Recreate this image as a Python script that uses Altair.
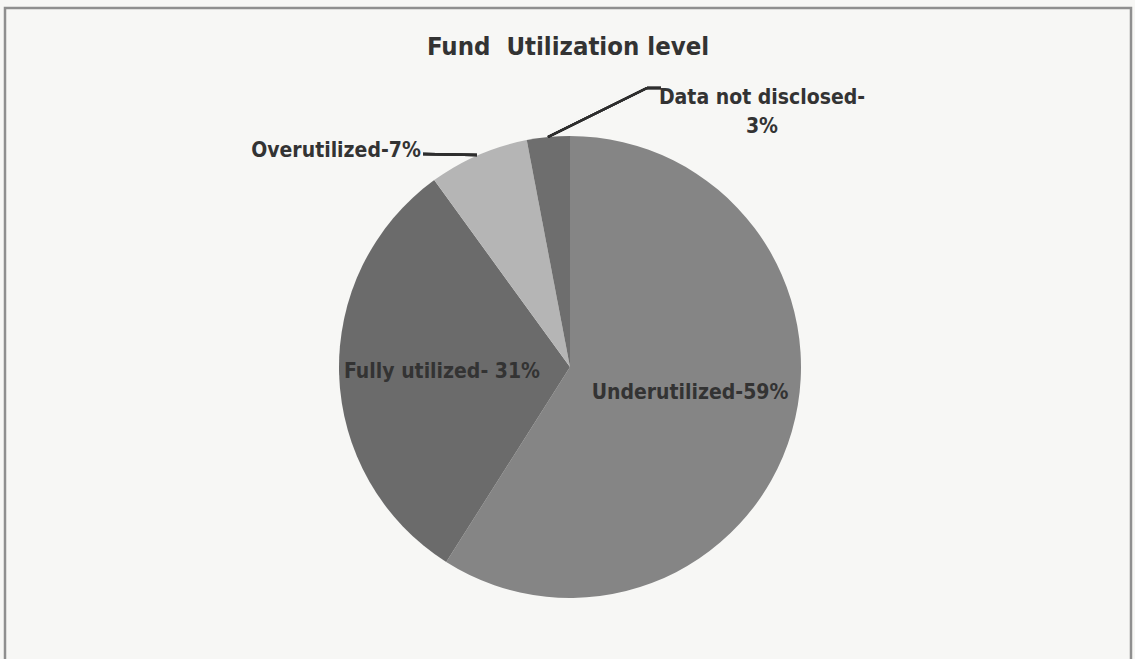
import altair as alt
import pandas as pd

# ---- data ----
categories = ["Underutilized", "Fully utilized", "Overutilized", "Data not disclosed"]
percents = [59, 31, 7, 3]
label_texts = ["Underutilized-59%", "Fully utilized- 31%", "Overutilized-7%", "Data not disclosed-\n3%"]
slice_order = [0, 1, 2, 3]
title_text = "Fund\u00a0 Utilization level"

# ---- styles ----
colors = ["#858585", "#6b6b6b", "#b5b5b5", "#6e6e6e"]
FONT = "Liberation Sans Narrow, DejaVu Sans Condensed, Lato, sans-serif"
TXT = "#333333"
PADL, PADT = 5, 8

df = pd.DataFrame({"category": categories, "percent": percents,
                   "label": label_texts, "order": slice_order})

cx, cy, R = 570 - PADL, 367 - PADT, 231

base = alt.Chart(df)

pie = base.mark_arc(radius=R, x=cx, y=cy).encode(
    theta=alt.Theta("percent:Q", stack=True),
    order=alt.Order("order:Q"),
    color=alt.Color("category:N", scale=alt.Scale(domain=categories, range=colors), legend=None),
)

label_pos = {
    "Underutilized": (690, 393),
    "Fully utilized": (442, 372),
    "Overutilized": (336, 151),
    "Data not disclosed": (762, 98),
}

labels = []
for cat, (px, py) in label_pos.items():
    labels.append(
        base.transform_filter(alt.datum.category == cat)
        .mark_text(x=px - PADL, y=py - PADT, align="center", baseline="middle",
                   font=FONT, fontSize=21, fontWeight="bold", color=TXT,
                   lineBreak="\n", lineHeight=29)
        .encode(text="label:N")
    )

title = base.transform_filter(alt.datum.order == 0).mark_text(
    x=568 - PADL, y=47 - PADT, align="center", baseline="middle",
    font=FONT, fontSize=25.5, fontWeight="bold", color=TXT,
).encode(text=alt.value(title_text))

lead_over = base.mark_rule(color="#2e2e2e", strokeWidth=2.5).encode(
    x=alt.value(423 - PADL), x2=alt.value(477 - PADL),
    y=alt.value(154 - PADT), y2=alt.value(155 - PADT))
lead_data1 = base.mark_rule(color="#2e2e2e", strokeWidth=2.5).encode(
    x=alt.value(548 - PADL), x2=alt.value(647 - PADL),
    y=alt.value(137 - PADT), y2=alt.value(88 - PADT))
lead_data2 = base.mark_rule(color="#2e2e2e", strokeWidth=2.5).encode(
    x=alt.value(647 - PADL), x2=alt.value(661 - PADL),
    y=alt.value(88 - PADT), y2=alt.value(88 - PADT))

chart = alt.layer(pie, lead_over, lead_data1, lead_data2, title, *labels).properties(
    width=1126, height=660,
    autosize=alt.AutoSizeParams(type="none"),
    padding={"left": PADL, "top": PADT, "right": 4, "bottom": 0},
    background="#f7f7f5",
).configure_view(stroke="#8f8f8f", strokeWidth=2.5)

chart.save("out.html", embed_options={"renderer": "svg", "actions": False})
